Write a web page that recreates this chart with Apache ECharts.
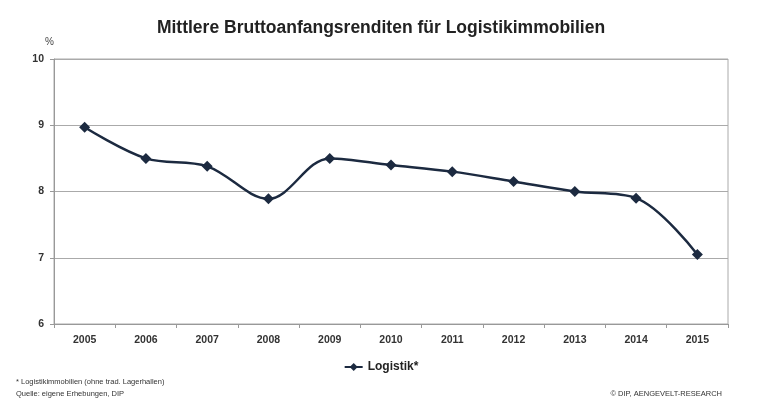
<!DOCTYPE html>
<html><head><meta charset="utf-8">
<script src="https://cdn.jsdelivr.net/npm/echarts@6/dist/echarts.min.js"></script>
<style>html,body{margin:0;padding:0;background:#fff}#c{width:762px;height:410px}</style>
</head><body><div id="c"></div>
<script>
const categories = ['2005','2006','2007','2008','2009','2010','2011','2012','2013','2014','2015'];
const logistik = [8.97, 8.5, 8.38, 7.89, 8.5, 8.4, 8.3, 8.15, 8.0, 7.9, 7.05];
const yTicks = [6, 7, 8, 9, 10];

const chart = echarts.init(document.getElementById('c'));
chart.setOption({
  backgroundColor: '#fff',
  animation: false,
  title: {
    text: 'Mittlere Bruttoanfangsrenditen für Logistikimmobilien',
    left: 'center', top: 14,
    textStyle: {fontFamily: 'Liberation Sans, Arial', fontSize: 17.5, fontWeight: 'bold', color: '#222'}
  },
  legend: {
    bottom: 32, left: 'center',
    itemWidth: 18, itemHeight: 10, itemGap: 2,
    textStyle: {fontFamily: 'Liberation Sans, Arial', fontSize: 12, fontWeight: 'bold', color: '#222'},
    data: ['Logistik*']
  },
  grid: {left: 54, right: 34, top: 59, bottom: 86, show: true, borderColor: '#aaa', borderWidth: 1},
  xAxis: {
    type: 'category', data: categories, boundaryGap: true,
    axisLine: {lineStyle: {color: '#999'}},
    axisTick: {show: true, length: 4, lineStyle: {color: '#999'}},
    axisLabel: {fontFamily: 'Liberation Sans, Arial', fontSize: 10.5, fontWeight: 'bold', color: '#333', margin: 11}
  },
  yAxis: {
    type: 'value', min: yTicks[0], max: yTicks[yTicks.length-1], interval: 1,
    name: '%', nameLocation: 'end', nameGap: 12,
    nameTextStyle: {fontFamily: 'Liberation Sans, Arial', fontSize: 10, color: '#444', align: 'right'},
    axisLine: {show: true, lineStyle: {color: '#999'}},
    axisTick: {show: true, length: 4, lineStyle: {color: '#999'}},
    splitLine: {lineStyle: {color: '#aaa', width: 1}},
    axisLabel: {fontFamily: 'Liberation Sans, Arial', fontSize: 10.5, fontWeight: 'bold', color: '#333', margin: 10}
  },
  series: [{
    name: 'Logistik*', type: 'line', data: logistik, smooth: 0.35,
    symbol: 'diamond', symbolSize: 11,
    lineStyle: {color: '#1c2a40', width: 2.5},
    itemStyle: {color: '#1c2a40'}
  }],
  graphic: [
    {type: 'text', left: 16, top: 378, style: {text: '* Logistikimmobilien (ohne trad. Lagerhallen)', font: '7.5px "Liberation Sans", Arial', fill: '#333'}},
    {type: 'text', left: 16, top: 390, style: {text: 'Quelle: eigene Erhebungen, DIP', font: '7.5px "Liberation Sans", Arial', fill: '#333'}},
    {type: 'text', right: 40, top: 390, style: {text: '© DIP, AENGEVELT-RESEARCH', font: '7.5px "Liberation Sans", Arial', fill: '#333'}}
  ]
});
</script></body></html>
